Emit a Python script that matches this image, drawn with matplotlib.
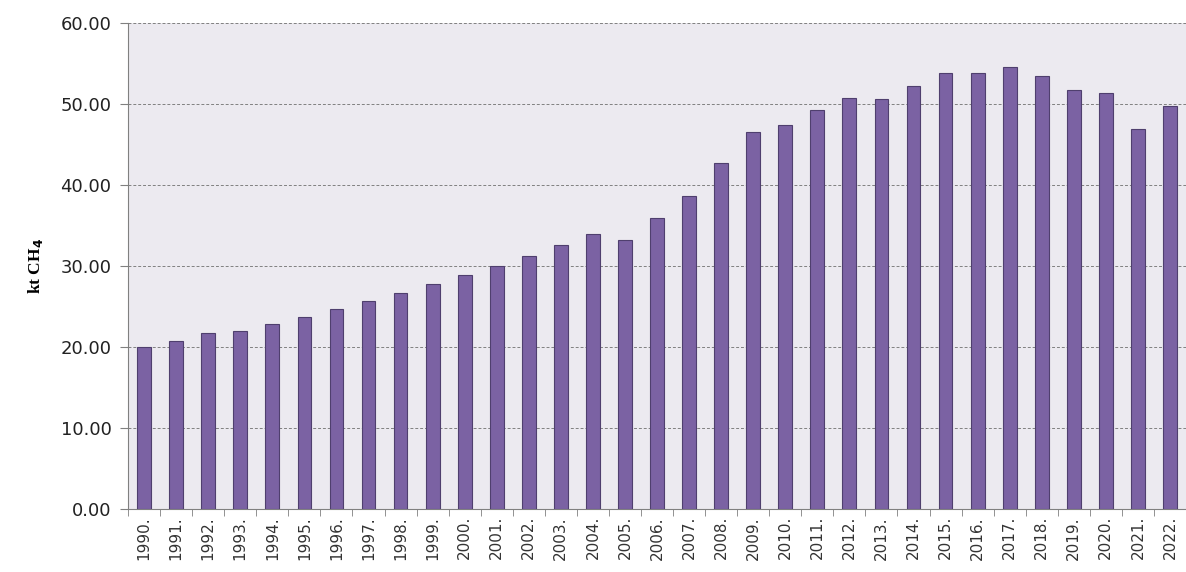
import numpy as np
import matplotlib
matplotlib.use("Agg")
import matplotlib.pyplot as plt

# Data.
Years = [str(Y) + "." for Y in range(1990, 2023)]
Values = [20.0, 20.8, 21.7, 22.0, 22.9, 23.7, 24.7, 25.7, 26.7, 27.8,
          28.9, 30.0, 31.2, 32.6, 34.0, 33.2, 35.9, 38.6, 42.7, 46.5,
          47.4, 49.3, 50.7, 50.6, 52.2, 53.8, 53.8, 54.6, 53.5, 51.7,
          51.4, 46.9, 49.8]
YTicks = [0, 10, 20, 30, 40, 50, 60]

Fig = plt.figure(figsize=(11.86, 5.72), dpi=100)
Ax = Fig.add_axes([0.108, 0.110, 0.892, 0.850])
Ax.set_facecolor("#ECEAF0")

X = np.arange(len(Years))
Ax.bar(X, Values, width=0.43, color="#7B62A3", edgecolor="#4F3F6E", linewidth=0.8, zorder=3)

Ax.set_ylim(0, 60)
Ax.set_xlim(-0.5, 32.08)
Ax.set_yticks(YTicks)
Ax.set_yticklabels(["%.2f" % V for V in YTicks], fontsize=13, family="DejaVu Sans", color="#222222")
Ax.yaxis.grid(True, linestyle=(0, (3, 2)), color="#808080", linewidth=0.7, zorder=1)

# Year labels centred under bars, ticks between bars.
Ax.set_xticks(X)
Ax.set_xticklabels(Years, rotation=90, fontsize=11, color="#333333")
Ax.tick_params(axis="x", which="major", length=0, pad=5)
Ax.set_xticks(np.arange(-0.5, 33, 1), minor=True)
Ax.tick_params(axis="x", which="minor", length=5, color="#808080", direction="out")
Ax.tick_params(axis="y", length=6, color="#808080", direction="out", pad=6)

for Side in ["top", "right"]:
    Ax.spines[Side].set_visible(False)
Ax.spines["left"].set_color("#808080")
Ax.spines["bottom"].set_color("#808080")

Fig.text(0.03, 0.535, r"kt CH$_\mathbf{4}$", rotation=90, ha="center", va="center",
         fontsize=12.5, fontweight="bold", family="Liberation Serif")

Fig.savefig("out.png", dpi=100)
